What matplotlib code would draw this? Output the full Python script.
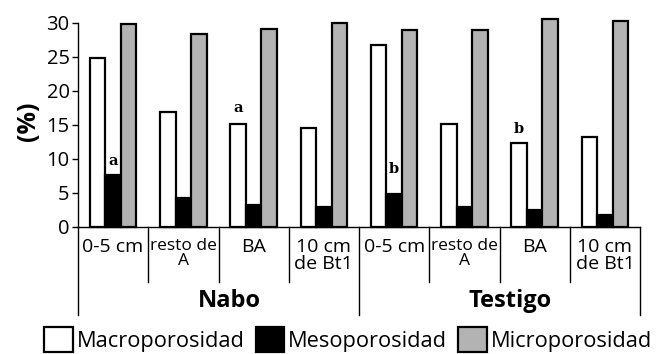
import numpy as np
import matplotlib
matplotlib.use("Agg")
import matplotlib.pyplot as plt
from matplotlib.patches import Patch

plt.rcParams['font.family'] = ['Open Sans', 'DejaVu Sans']

# data
categories = ["0-5 cm", "resto de\nA", "BA", "10 cm\nde Bt1",
              "0-5 cm", "resto de\nA", "BA", "10 cm\nde Bt1"]
groups = ["Nabo", "Testigo"]
macro = [24.8, 16.9, 15.2, 14.6, 26.8, 15.1, 12.3, 13.2]
meso = [7.7, 4.2, 3.3, 3.0, 4.8, 3.0, 2.5, 1.8]
micro = [29.8, 28.3, 29.1, 30.0, 28.9, 28.9, 30.5, 30.3]
series_names = ["Macroporosidad", "Mesoporosidad", "Microporosidad"]
# significance letters: (letter, category index, series index)
letters = [("a", 0, 1), ("a", 2, 0), ("b", 4, 1), ("b", 6, 0)]

colors = ["white", "black", "#b3b3b3"]
values = [macro, meso, micro]

fig = plt.figure(figsize=(6.63, 3.54), dpi=100)
ax = fig.add_axes([78/663, 1 - 227/354, (640 - 78)/663, 211/354])

x = np.arange(len(categories))
w = 0.22
for i, (vals, c) in enumerate(zip(values, colors)):
    ax.bar(x + (i - 1) * w, vals, w, color=c, edgecolor="black",
           linewidth=1.6, clip_on=False, zorder=3)

# letters above bars
offsets = {0: 1.0, 1: 1.2, 2: 2.7, 3: 1.0}
for k, (lt, ci, si) in enumerate(letters):
    ax.text(x[ci] + (si - 1) * w, values[si][ci] + offsets[k], lt,
            family="DejaVu Serif", fontweight="bold", fontsize=10.5,
            ha="center", va="bottom")

ax.set_xlim(-0.5, len(categories) - 0.5)
ax.set_ylim(0, 31)
ax.set_yticks(range(0, 31, 5))
ax.spines["left"].set_bounds(0, 30)
ax.spines["top"].set_visible(False)
ax.spines["right"].set_visible(False)
ax.spines["left"].set_linewidth(1.0)
ax.spines["bottom"].set_linewidth(1.0)
ax.set_xticks([])
ax.tick_params(axis="y", labelsize=14.5, length=4, width=1, pad=2)
ax.set_ylabel("(%)", fontsize=18, fontweight="bold", labelpad=4)

# category boxes under the axis
ah = 211
trans = ax.get_xaxis_transform()
for b in np.arange(-0.5, len(categories), 1.0):
    long_line = (abs(b + 0.5) < 1e-6 or abs(b - 3.5) < 1e-6
                 or abs(b - 7.5) < 1e-6)
    ybot = (227 - 315) / ah if long_line else (227 - 282) / ah
    ax.plot([b, b], [0, ybot], color="black", lw=1.0,
            transform=trans, clip_on=False)

for xi, lab in zip(x, categories):
    fs = 12.5 if lab.startswith("resto") else 14
    ax.text(xi, (227 - 238) / ah, lab, transform=trans, ha="center",
            va="top", fontsize=fs, linespacing=0.95)

for gi, g in enumerate(groups):
    ax.text(gi * 4 + 1.65, (227 - 301) / ah, g, transform=trans,
            ha="center", va="center", fontsize=17, fontweight="bold")

handles = [Patch(facecolor=c, edgecolor="black", linewidth=1.6)
           for c in colors]
fig.legend(handles, series_names, loc="lower left",
           bbox_to_anchor=(42/663, 0.0), ncol=3, frameon=False,
           fontsize=15.7, handlelength=1.3, handleheight=1.35,
           handletextpad=0.2, columnspacing=0.5, borderpad=0.1,
           borderaxespad=0)

fig.savefig("out.png", dpi=100)
